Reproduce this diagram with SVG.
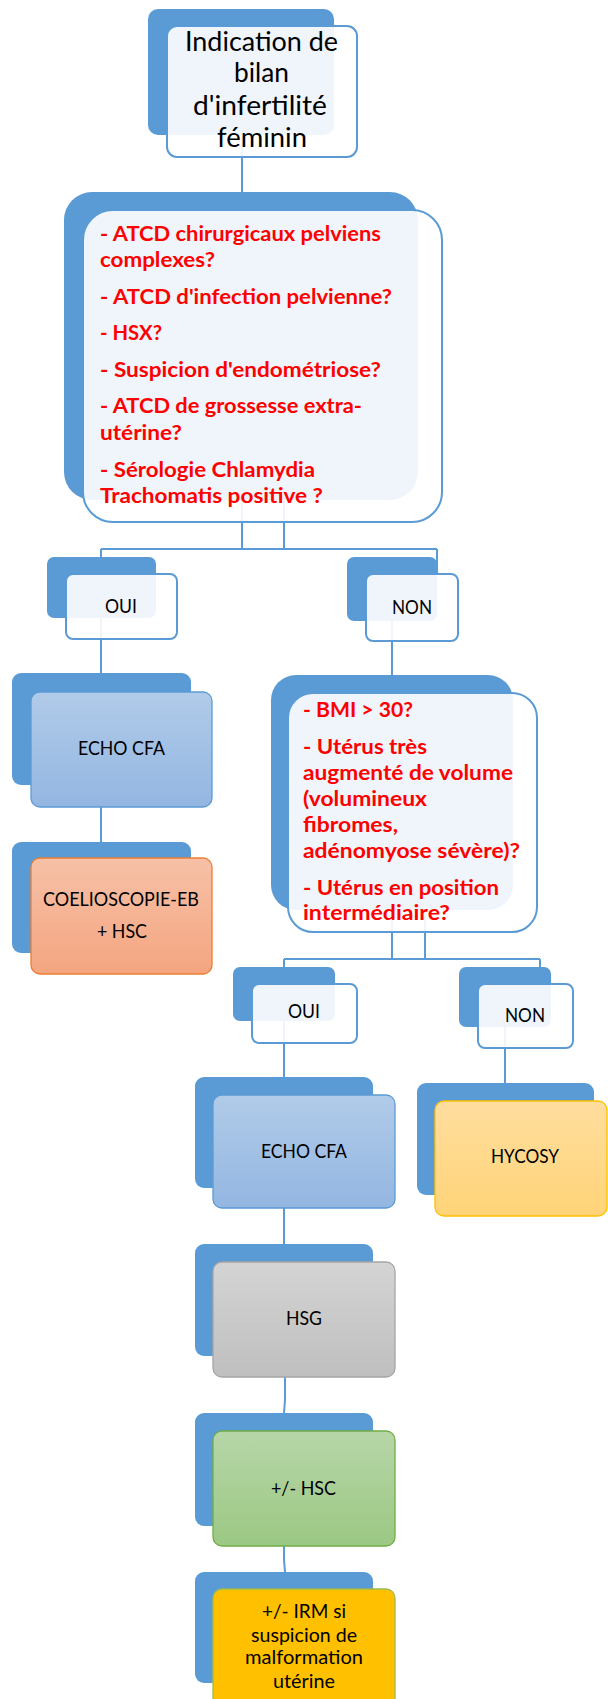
<svg xmlns="http://www.w3.org/2000/svg" width="608" height="1699" viewBox="0 0 608 1699">
<style>
.bk{fill:#5B9BD5;}
.fw{fill:#FFFFFF;fill-opacity:0.9;stroke:#5B9BD5;stroke-width:2;}
.c{fill:none;stroke:#5B9BD5;stroke-width:2;}
.r{font-family:Lato,"Liberation Sans",sans-serif;font-weight:bold;font-size:20px;fill:#FF0000;}
.t{font-family:Lato,"Liberation Sans",sans-serif;font-size:18.5px;fill:#000;text-anchor:middle;}
.tt{font-family:Lato,"Liberation Sans",sans-serif;font-size:26px;fill:#000;text-anchor:middle;}
</style>
<defs>
<linearGradient id="gB" x1="0" y1="0" x2="0" y2="1"><stop offset="0" stop-color="#B1CBE9"/><stop offset="1" stop-color="#93B6E1"/></linearGradient>
<linearGradient id="gO" x1="0" y1="0" x2="0" y2="1"><stop offset="0" stop-color="#F7C1A7"/><stop offset="1" stop-color="#F4A580"/></linearGradient>
<linearGradient id="gG" x1="0" y1="0" x2="0" y2="1"><stop offset="0" stop-color="#D4D4D4"/><stop offset="1" stop-color="#BFBFBF"/></linearGradient>
<linearGradient id="gV" x1="0" y1="0" x2="0" y2="1"><stop offset="0" stop-color="#B7D6A8"/><stop offset="1" stop-color="#9BC883"/></linearGradient>
<linearGradient id="gY" x1="0" y1="0" x2="0" y2="1"><stop offset="0" stop-color="#FFDD9E"/><stop offset="1" stop-color="#FFD478"/></linearGradient>
</defs>

<g id="connectors">
<path class="c" d="M242 130V192"/>
<path class="c" d="M242 500V549M284 500V549M101 549H437M101 549V560M437 549V574"/>
<path class="c" d="M101 615V673"/>
<path class="c" d="M392 615V675"/>
<path class="c" d="M101 800V842"/>
<path class="c" d="M392 905V959M425 905V959M284 959H540M284 959V970M540 959V984"/>
<path class="c" d="M284 1018V1077"/>
<path class="c" d="M505 1024V1083"/>
<path class="c" d="M284 1200V1244"/>
<path class="c" d="M285 1370V1400L284 1413"/>
<path class="c" d="M284 1540V1560L285 1572"/>
</g>

<g id="n_top">
<rect class="bk" x="148" y="9" width="186" height="126" rx="10"/>
<rect class="fw" x="167" y="26" width="190" height="131" rx="10"/>
<text class="tt" x="261.5" y="51" textLength="153" lengthAdjust="spacingAndGlyphs">Indication de</text>
<text class="tt" x="261.5" y="82" textLength="55" lengthAdjust="spacingAndGlyphs">bilan</text>
<text class="tt" x="260" y="115" textLength="134" lengthAdjust="spacingAndGlyphs">d'infertilité</text>
<text class="tt" x="262" y="147" textLength="90" lengthAdjust="spacingAndGlyphs">féminin</text>
</g>

<g id="n_q1">
<rect class="bk" x="64" y="192" width="354" height="308" rx="28"/>
<rect class="fw" x="83" y="210" width="359" height="312" rx="30"/>
<text class="r" x="100" y="241" textLength="281" lengthAdjust="spacingAndGlyphs">- ATCD chirurgicaux pelviens</text>
<text class="r" x="100" y="267" textLength="115" lengthAdjust="spacingAndGlyphs">complexes?</text>
<text class="r" x="100" y="304" textLength="292" lengthAdjust="spacingAndGlyphs">- ATCD d'infection pelvienne?</text>
<text class="r" x="100" y="340" textLength="62" lengthAdjust="spacingAndGlyphs">- HSX?</text>
<text class="r" x="100" y="377" textLength="281" lengthAdjust="spacingAndGlyphs">- Suspicion d'endométriose?</text>
<text class="r" x="100" y="413" textLength="262" lengthAdjust="spacingAndGlyphs">- ATCD de grossesse extra-</text>
<text class="r" x="100" y="440" textLength="82" lengthAdjust="spacingAndGlyphs">utérine?</text>
<text class="r" x="100" y="477" textLength="215" lengthAdjust="spacingAndGlyphs">- Sérologie Chlamydia</text>
<text class="r" x="100" y="503" textLength="223" lengthAdjust="spacingAndGlyphs">Trachomatis positive ?</text>
</g>

<g id="n_oui1">
<rect class="bk" x="47" y="557" width="109" height="61" rx="7"/>
<rect class="fw" x="66" y="574" width="111" height="65" rx="7"/>
<text class="t" x="121" y="613" textLength="32" lengthAdjust="spacingAndGlyphs">OUI</text>
</g>

<g id="n_non1">
<rect class="bk" x="347" y="557" width="90" height="64" rx="7"/>
<rect class="fw" x="366" y="574" width="92" height="67" rx="7"/>
<text class="t" x="412" y="614" textLength="40" lengthAdjust="spacingAndGlyphs">NON</text>
</g>

<g id="n_echo1">
<rect class="bk" x="12" y="673" width="179" height="112" rx="9"/>
<rect x="31" y="692" width="181" height="115" rx="9" fill="url(#gB)" stroke="#5B9BD5" stroke-width="1.3"/>
<text class="t" x="121.5" y="755" textLength="87" lengthAdjust="spacingAndGlyphs">ECHO CFA</text>
</g>

<g id="n_coelio">
<rect class="bk" x="12" y="842" width="179" height="111" rx="9"/>
<rect x="31" y="858" width="181" height="116" rx="9" fill="url(#gO)" stroke="#ED7D31" stroke-width="1.3"/>
<text class="t" x="121" y="906" textLength="156" lengthAdjust="spacingAndGlyphs">COELIOSCOPIE-EB</text>
<text class="t" x="122" y="938" textLength="50" lengthAdjust="spacingAndGlyphs">+ HSC</text>
</g>

<g id="n_q2">
<rect class="bk" x="271" y="675" width="242" height="235" rx="25"/>
<rect class="fw" x="288" y="693" width="249" height="239" rx="25"/>
<text class="r" x="303" y="717" textLength="110" lengthAdjust="spacingAndGlyphs">- BMI &gt; 30?</text>
<text class="r" x="303" y="754" textLength="124" lengthAdjust="spacingAndGlyphs">- Utérus très</text>
<text class="r" x="303" y="780" textLength="210" lengthAdjust="spacingAndGlyphs">augmenté de volume</text>
<text class="r" x="303" y="806" textLength="124" lengthAdjust="spacingAndGlyphs">(volumineux</text>
<text class="r" x="303" y="832" textLength="95" lengthAdjust="spacingAndGlyphs">fibromes,</text>
<text class="r" x="303" y="858" textLength="217" lengthAdjust="spacingAndGlyphs">adénomyose sévère)?</text>
<text class="r" x="303" y="895" textLength="196" lengthAdjust="spacingAndGlyphs">- Utérus en position</text>
<text class="r" x="303" y="920" textLength="147" lengthAdjust="spacingAndGlyphs">intermédiaire?</text>
</g>

<g id="n_oui2">
<rect class="bk" x="233" y="967" width="102" height="54" rx="7"/>
<rect class="fw" x="252" y="984" width="105" height="59" rx="7"/>
<text class="t" x="304" y="1018" textLength="32" lengthAdjust="spacingAndGlyphs">OUI</text>
</g>

<g id="n_non2">
<rect class="bk" x="459" y="967" width="92" height="60" rx="7"/>
<rect class="fw" x="478" y="984" width="95" height="64" rx="7"/>
<text class="t" x="525" y="1022" textLength="40" lengthAdjust="spacingAndGlyphs">NON</text>
</g>

<g id="n_echo2">
<rect class="bk" x="195" y="1077" width="178" height="111" rx="9"/>
<rect x="213" y="1095" width="182" height="113" rx="9" fill="url(#gB)" stroke="#5B9BD5" stroke-width="1.3"/>
<text class="t" x="304" y="1158" textLength="86" lengthAdjust="spacingAndGlyphs">ECHO CFA</text>
</g>

<g id="n_hycosy">
<rect class="bk" x="417" y="1083" width="177" height="112" rx="9"/>
<rect x="435" y="1101" width="172" height="115" rx="9" fill="url(#gY)" stroke="#FFC000" stroke-width="1.3"/>
<text class="t" x="525" y="1163" textLength="68" lengthAdjust="spacingAndGlyphs">HYCOSY</text>
</g>

<g id="n_hsg">
<rect class="bk" x="195" y="1244" width="178" height="112" rx="9"/>
<rect x="213" y="1262" width="182" height="115" rx="9" fill="url(#gG)" stroke="#A5A5A5" stroke-width="1.3"/>
<text class="t" x="304" y="1325" textLength="36" lengthAdjust="spacingAndGlyphs">HSG</text>
</g>

<g id="n_hsc">
<rect class="bk" x="195" y="1413" width="178" height="113" rx="9"/>
<rect x="213" y="1431" width="182" height="115" rx="9" fill="url(#gV)" stroke="#70AD47" stroke-width="1.3"/>
<text class="t" x="303.5" y="1495" textLength="65" lengthAdjust="spacingAndGlyphs">+/- HSC</text>
</g>

<g id="n_irm">
<rect class="bk" x="195" y="1572" width="178" height="111" rx="9"/>
<rect x="213" y="1589" width="182" height="122" rx="9" fill="#FFC000" stroke="#9DBB4E" stroke-width="1.3"/>
<text class="t" x="304" y="1618" textLength="84" lengthAdjust="spacingAndGlyphs">+/- IRM si</text>
<text class="t" x="304" y="1642" textLength="106" lengthAdjust="spacingAndGlyphs">suspicion de</text>
<text class="t" x="304" y="1664" textLength="118" lengthAdjust="spacingAndGlyphs">malformation</text>
<text class="t" x="304" y="1688" textLength="62" lengthAdjust="spacingAndGlyphs">utérine</text>
</g>
</svg>
